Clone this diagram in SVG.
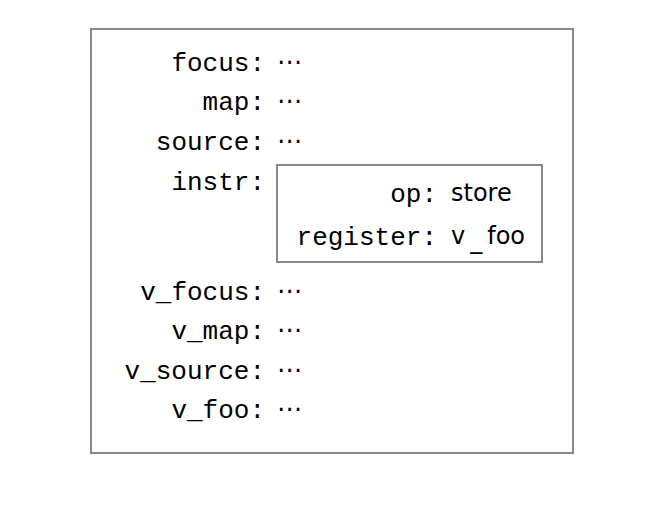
<svg xmlns="http://www.w3.org/2000/svg" width="670" height="517" viewBox="0 0 670 517">
<style>
.box{fill:#fff;stroke:#888;stroke-width:2}
.k{font-family:"Liberation Mono",monospace;font-size:26px;fill:#000;text-anchor:end}
.d{font-family:"DejaVu Sans",sans-serif;font-size:25px;fill:#000}
.s{font-family:"DejaVu Sans",sans-serif;font-size:24px;fill:#000}
</style>
<rect width="670" height="517" fill="#fff"/>
<g id="record">
<rect class="box" x="91" y="29" width="482" height="424"/>
<text class="k" x="265" y="71">focus:</text><text class="d" x="277" y="70">⋯</text>
<text class="k" x="265" y="110">map:</text><text class="d" x="277" y="109">⋯</text>
<text class="k" x="265" y="150">source:</text><text class="d" x="277" y="149">⋯</text>
<text class="k" x="265" y="190">instr:</text>
<text class="k" x="265" y="300">v_focus:</text><text class="d" x="277" y="299">⋯</text>
<text class="k" x="265" y="339">v_map:</text><text class="d" x="277" y="338">⋯</text>
<text class="k" x="265" y="379">v_source:</text><text class="d" x="277" y="378">⋯</text>
<text class="k" x="265" y="418">v_foo:</text><text class="d" x="277" y="417">⋯</text>
</g>
<g id="instr">
<rect class="box" x="277" y="165" width="265" height="97"/>
<text class="k" x="437" y="202">op:</text><text class="s" x="451" y="201">store</text>
<text class="k" x="437" y="245">register:</text><text class="s" x="451" y="244">v<tspan dx="5" dy="4">_</tspan><tspan dx="5" dy="-4">foo</tspan></text>
</g>
<g id="connectors"/>
</svg>
